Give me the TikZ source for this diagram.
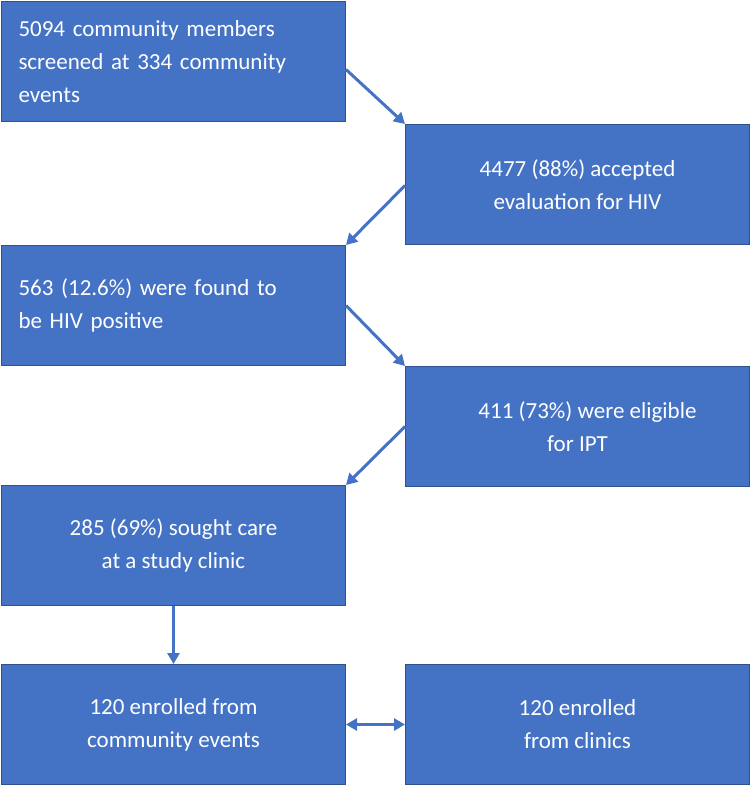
\documentclass[tikz,border=0pt]{standalone}
\usepackage{fontspec}
\setmainfont{Carlito}
\usetikzlibrary{calc,arrows.meta}
\definecolor{boxblue}{HTML}{4472C4}
\definecolor{boxedge}{HTML}{2F528F}
\begin{document}
\begin{tikzpicture}[x=1pt,y=-1pt,
  box/.style={draw=boxedge,line width=1pt,fill=boxblue,text=white,minimum width=344pt,minimum height=120pt,anchor=north west,font=\fontsize{23}{33}\selectfont,inner sep=0pt},
  lbox/.style={box,align=left,text width=310pt},
  cbox/.style={box,align=center},
  arr/.style={draw=boxblue,line width=3pt,-{Triangle[length=11pt,width=12pt]}}]
\useasboundingbox (0,0) rectangle (750,786);
\node[lbox] (b1) at (1,1) {5094 community members\\screened at 334 community\\events};
\node[cbox] (b2) at (405,124) {4477 (88\%) accepted\\evaluation for HIV};
\node[lbox] (b3) at (1,245) {563 (12.6\%) were found to\\be HIV positive};
\node[cbox] (b4) at (405,366) {\hspace*{20pt}411 (73\%) were eligible\\for IPT};
\node[cbox] (b5) at (1,485) {285 (69\%) sought care\\at a study clinic};
\node[cbox] (b6) at (1,664) {120 enrolled from\\community events};
\node[cbox] (b7) at (405,664) {120 enrolled\\from clinics};
\draw[arr] ($(b1.east)+(0,8)$) -- (b2.north west);
\draw[arr] ($(b2.west)+(0,1)$) -- (b3.north east);
\draw[arr] ($(b3.east)+(0,0)$) -- (b4.north west);
\draw[arr] ($(b4.west)+(0,0)$) -- (b5.north east);
\draw[arr] (b5.south) -- (b6.north);
\draw[draw=boxblue,line width=3pt,{Triangle[length=11pt,width=12pt]}-{Triangle[length=11pt,width=12pt]}] (b6.east) -- (b7.west);
\end{tikzpicture}
\end{document}
